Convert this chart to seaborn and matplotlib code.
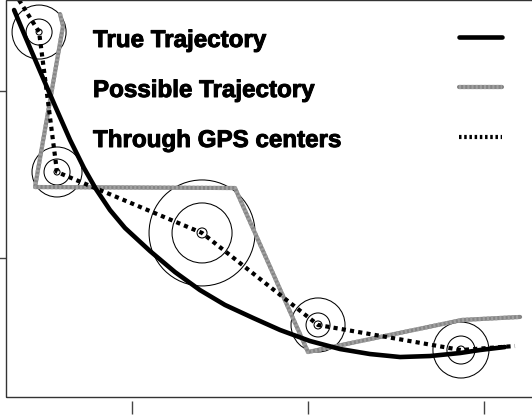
import numpy as np
import pandas as pd
import matplotlib
matplotlib.use("Agg")
import matplotlib.pyplot as plt
import matplotlib.patheffects as pe
from matplotlib.lines import Line2D
from matplotlib.patches import Rectangle
import seaborn as sns

# ---- data ----
true_x = [0.330, 0.392, 0.477, 0.563, 0.648, 0.727, 0.795, 0.875, 0.960, 1.102,
          1.244, 1.386, 1.528, 1.688, 1.841, 2.011, 2.182, 2.352, 2.523, 2.693,
          2.864, 2.977, 3.119]
true_y = [2.485, 2.329, 2.120, 1.910, 1.707, 1.539, 1.413, 1.287, 1.180, 1.042,
          0.916, 0.808, 0.719, 0.641, 0.569, 0.503, 0.455, 0.425, 0.407, 0.413,
          0.431, 0.449, 0.467]

poss_x = [0.591, 0.608, 0.449, 1.585, 2.000, 2.108, 2.875, 3.205]
poss_y = [2.461, 2.389, 1.425, 1.419, 0.437, 0.461, 0.629, 0.647]

gps_x = [0.472, 0.574, 1.398, 2.057, 2.869]
gps_y = [2.353, 1.515, 1.150, 0.599, 0.449]

thru_x = [0.358, 0.472, 0.574, 1.398, 2.057, 2.869, 3.176]
thru_y = [2.545, 2.353, 1.515, 1.150, 0.599, 0.449, 0.473]

# ring radii around each GPS centre (pixels)
r_outer = [27, 25, 53, 27, 28]
r_middle = [13, 13, 30, 12, 14]
r_inner = [3, 3, 5, 4, 4]

labels = ["True Trajectory", "Possible Trajectory", "Through GPS centers"]
x_ticks = [1, 2, 3]
y_ticks = [1, 2]

sns.set_style("white")
plt.rcParams["font.family"] = ["Liberation Sans", "DejaVu Sans"]

W, H, DPI = 532, 419, 100
fig = plt.figure(figsize=(W / DPI, H / DPI), dpi=DPI)
left_px, right_px, top_px, bot_px = 6, 560, 0.5, 397
ax = fig.add_axes([left_px / W, (H - bot_px) / H, (right_px - left_px) / W, (bot_px - top_px) / H])

px_x = 176.0
px_y = 167.0
ax.set_xlim(1 - (132 - left_px) / px_x, 1 + (right_px - 132) / px_x)
ax.set_ylim(1 - (bot_px - 258) / px_y, 1 + (258 - top_px) / px_y)

GRAY = "#858585"
GRAY_LIGHT = "#a0a0a0"

# rings
for radii in (r_outer, r_middle, r_inner):
    sizes = [(2 * r * 72 / DPI) ** 2 for r in radii]
    sns.scatterplot(x=gps_x, y=gps_y, s=sizes, marker="o", facecolors="none",
                    edgecolor="black", linewidth=0.75, ax=ax, zorder=1, legend=False)

df_poss = pd.DataFrame({"x": poss_x, "y": poss_y})
df_thru = pd.DataFrame({"x": thru_x, "y": thru_y})
df_true = pd.DataFrame({"x": true_x, "y": true_y})

sns.lineplot(data=df_poss, x="x", y="y", sort=False, estimator=None, color=GRAY,
             lw=3.0, ax=ax, zorder=2)
sns.lineplot(data=df_poss, x="x", y="y", sort=False, estimator=None, color=GRAY_LIGHT,
             lw=3.0, ls=(0, (0.5, 0.5)), ax=ax, zorder=2.1)
sns.lineplot(data=df_thru, x="x", y="y", sort=False, estimator=None, color="black",
             lw=3.0, ls=(0, (1, 1)), ax=ax, zorder=3, dash_capstyle="butt")
sns.lineplot(data=df_true, x="x", y="y", sort=False, estimator=None, color="black",
             lw=3.3, ax=ax, zorder=4)

# frame and ticks
for s in ax.spines.values():
    s.set_visible(False)
ax.add_patch(Rectangle((0, 0), 1, 1, transform=ax.transAxes, fill=False,
                       ec="#333333", lw=1.0, clip_on=False, zorder=5))
ax.spines["bottom"].set_position(("outward", 4 * 72 / DPI))
ax.set_xticks(x_ticks)
ax.set_yticks(y_ticks)
ax.tick_params(axis="x", bottom=True, length=13 * 72 / DPI, width=1.0, color="#444444",
               labelbottom=False, direction="out")
ax.tick_params(axis="y", left=True, length=8 * 72 / DPI, width=1.0, color="#444444",
               labelleft=False, direction="out")
ax.set_xlabel("")
ax.set_ylabel("")
ax.grid(False)

# legend: labels on the left, line samples on the right
key_styles = [
    [dict(color="black", lw=3.3)],
    [dict(color=GRAY, lw=3.0), dict(color=GRAY_LIGHT, lw=3.0, ls=(0, (0.5, 0.5)))],
    [dict(color="black", lw=3.0, ls=(0, (0.6, 0.65)))],
]
for i, (lab, styles) in enumerate(zip(labels, key_styles)):
    base = 47 + 50 * i
    fig.text(93 / W, 1 - base / H, lab, ha="left", va="baseline",
             fontsize=17.4, fontweight="bold", color="black",
             path_effects=[pe.withStroke(linewidth=0.7, foreground="black")])
    ly = 1 - (base - 10) / H
    for st in styles:
        fig.add_artist(Line2D([459 / W, 502 / W], [ly, ly], transform=fig.transFigure, **st))

fig.savefig("out.png", dpi=DPI)
